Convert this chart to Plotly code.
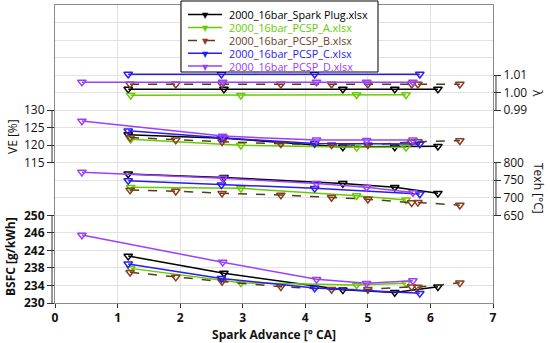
import plotly.graph_objects as go

# ---------------- data ----------------
names = ["2000_16bar_Spark Plug.xlsx", "2000_16bar_PCSP_A.xlsx", "2000_16bar_PCSP_B.xlsx",
         "2000_16bar_PCSP_C.xlsx", "2000_16bar_PCSP_D.xlsx"]

x_sp = [1.17, 2.70, 4.60, 5.43, 6.12]
x_a = [1.21, 2.97, 4.82, 5.61]
x_b = [1.20, 1.93, 2.67, 3.61, 4.42, 5.00, 5.70, 5.80, 6.47]
x_c = [1.17, 2.66, 4.15, 5.83]
x_d = [0.43, 2.68, 4.18, 4.98, 5.72]

lam_sp = [1.002, 1.002, 1.002, 1.002, 1.002]
lam_a = [0.9985, 0.9985, 0.9988, 0.9988]
lam_b = [1.0048, 1.0048, 1.0048, 1.0048, 1.0048, 1.0048, 1.0048, 1.0048, 1.0048]
lam_c = [1.0105, 1.0105, 1.0105, 1.0105]
lam_d = [1.006, 1.006, 1.006, 1.006, 1.006]

ve_sp = [123.0, 122.0, 119.5, 119.5, 119.7]
ve_a = [121.7, 120.0, 119.4, 119.4]
ve_b = [122.2, 121.5, 121.0, 120.4, 120.1, 120.1, 120.9, 121.0, 121.3]
ve_c = [124.1, 122.1, 120.5, 120.35]
ve_d = [126.9, 122.6, 121.5, 121.4, 121.5]

tex_sp = [768, 758, 741, 730, 713]
tex_a = [730, 727, 706, 694]
tex_b = [722, 719, 713, 708, 701, 696, 686, 687, 679]
tex_c = [749, 737, 727, 711]
tex_d = [773, 756, 741, 730, 715]

bsfc_sp = [240.7, 236.8, 233.0, 232.4, 233.7]
bsfc_a = [237.9, 234.6, 234.1, 234.5]
bsfc_b = [237.0, 235.9, 234.9, 233.7, 233.1, 233.1, 233.7, 233.6, 234.6]
bsfc_c = [238.9, 235.6, 233.4, 232.2]
bsfc_d = [245.5, 239.3, 235.4, 234.5, 235.1]

lam_ticks = [0.99, 1.00, 1.01]
ve_ticks = [115, 120, 125, 130]
tex_ticks = [650, 700, 750, 800]
bsfc_ticks = [230, 234, 238, 242, 246, 250]
x_ticks = [0, 1, 2, 3, 4, 5, 6, 7]

# ---------------- styles ----------------
line_cols = ["#000000", "#66cc00", "#5a3a1e", "#2a1bf0", "#9b40ff"]
mark_cols = ["#000000", "#66cc00", "#8b3d1f", "#2a1bf0", "#9b40ff"]
text_cols = ["#000000", "#66cc00", "#6b4226", "#2a1bf0", "#9b40ff"]
dashes = ["solid", "solid", "dash", "solid", "solid"]

xs = [x_sp, x_a, x_b, x_c, x_d]
panels = [
    ("y2", [lam_sp, lam_a, lam_b, lam_c, lam_d]),
    ("y3", [ve_sp, ve_a, ve_b, ve_c, ve_d]),
    ("y4", [tex_sp, tex_a, tex_b, tex_c, tex_d]),
    ("y5", [bsfc_sp, bsfc_a, bsfc_b, bsfc_c, bsfc_d]),
]

FONT = "Open Sans"
fig = go.Figure()

for yref, series in panels:
    for i in range(5):
        fig.add_trace(go.Scatter(
            x=xs[i], y=series[i], yaxis=yref, mode="lines+markers",
            name=names[i], showlegend=False,
            line=dict(color=line_cols[i], width=1.5, dash=dashes[i]),
            marker=dict(symbol="triangle-down-open", size=7.5, color=mark_cols[i],
                        line=dict(width=1.5, color=mark_cols[i])),
        ))

# hidden trace on main y axis so it renders grid
fig.add_trace(go.Scatter(x=[None], y=[None], yaxis="y", showlegend=False))

tickfont = dict(family=FONT, size=12, color="#111")

fig.update_layout(
    width=550, height=343,
    margin=dict(l=55, r=57, t=5, b=40, autoexpand=False),
    paper_bgcolor="white", plot_bgcolor="white",
    showlegend=False,
    font=dict(family=FONT, size=12, color="#111"),
    xaxis=dict(range=[0, 7], tickvals=x_ticks, showgrid=True, gridcolor="#e2e2e2",
               zeroline=False, showline=True, linecolor="#8a8a8a", mirror=True,
               ticks="outside", ticklen=4, tickcolor="#333",
               tickfont=dict(family=FONT, size=12, color="#111", weight="bold"),
               title=dict(text="Spark Advance [° CA]", standoff=2,
                          font=dict(family=FONT, size=12, color="#111", weight="bold"))),
    yaxis=dict(range=[0, 17], dtick=1, showgrid=True, gridcolor="#e2e2e2",
               showticklabels=False, ticks="", zeroline=False,
               showline=True, linecolor="#8a8a8a", mirror=True),
    yaxis2=dict(overlaying="y", anchor="x", side="right", range=[0.88, 1.05],
                tickvals=lam_ticks, tickformat=".2f", showgrid=False, zeroline=False,
                ticks="outside", ticklen=7, tickcolor="#333", tickfont=tickfont),
    yaxis3=dict(overlaying="y", anchor="x", side="left", range=[75, 160],
                tickvals=ve_ticks, showgrid=False, zeroline=False,
                ticks="outside", ticklen=7, tickcolor="#333", tickfont=tickfont),
    yaxis4=dict(overlaying="y", anchor="x", side="right", range=[400, 1250],
                tickvals=tex_ticks, showgrid=False, zeroline=False,
                ticks="outside", ticklen=7, tickcolor="#333", tickfont=tickfont),
    yaxis5=dict(overlaying="y", anchor="x", side="left", range=[230, 298],
                tickvals=bsfc_ticks, showgrid=False, zeroline=False,
                ticks="outside", ticklen=7, tickcolor="#333",
                tickfont=dict(family=FONT, size=12, color="#111", weight="bold")),
)

# axis bracket lines (span of each sub-axis)
shapes = []
for yref, ticks, xp in [("y2", lam_ticks, 1.0068), ("y3", ve_ticks, -0.0068),
                        ("y4", tex_ticks, 1.0068), ("y5", bsfc_ticks, -0.0068)]:
    shapes.append(dict(type="line", xref="paper", yref=yref, x0=xp, x1=xp,
                       y0=min(ticks), y1=max(ticks), line=dict(color="#333", width=1)))

# custom legend box
def px2x(p):
    return (p - 55) / 438.0

def py2y(p):
    return (303 - p) / 298.0

shapes.append(dict(type="rect", xref="paper", yref="paper", layer="above",
                   x0=px2x(181), x1=px2x(378), y0=py2y(72), y1=py2y(1),
                   fillcolor="white", line=dict(color="#000", width=1)))
rows = [14.5, 27.5, 40.5, 53.3, 66]
annotations = []
for i, r in enumerate(rows):
    shapes.append(dict(type="line", xref="paper", yref="paper", layer="above",
                       x0=px2x(188), x1=px2x(222), y0=py2y(r), y1=py2y(r),
                       line=dict(color=line_cols[i], width=1.5, dash=dashes[i])))
    annotations.append(dict(xref="paper", yref="paper", x=px2x(205), y=py2y(r) - 0.004,
                            text="▼", showarrow=False, xanchor="center", yanchor="middle",
                            font=dict(family="DejaVu Sans", size=8, color=mark_cols[i])))
    annotations.append(dict(xref="paper", yref="paper", x=px2x(228), y=py2y(r),
                            text=names[i], showarrow=False, xanchor="left", yanchor="middle",
                            borderpad=0,
                            font=dict(family=FONT, size=10.8, color=text_cols[i])))

# axis titles
annotations += [
    dict(xref="paper", yref="paper", x=px2x(12), y=py2y(137), text="VE [%]", textangle=-90,
         showarrow=False, xanchor="center", yanchor="middle",
         font=dict(family=FONT, size=12, color="#111")),
    dict(xref="paper", yref="paper", x=px2x(10), y=py2y(257), text="BSFC [g/kWh]", textangle=-90,
         showarrow=False, xanchor="center", yanchor="middle",
         font=dict(family=FONT, size=12, color="#111", weight="bold")),
    dict(xref="paper", yref="paper", x=px2x(538), y=py2y(93), text="λ", textangle=90,
         showarrow=False, xanchor="center", yanchor="middle",
         font=dict(family=FONT, size=12, color="#111")),
    dict(xref="paper", yref="paper", x=px2x(538), y=py2y(188), text="Texh [°C]", textangle=90,
         showarrow=False, xanchor="center", yanchor="middle",
         font=dict(family=FONT, size=12, color="#111")),
]

fig.update_layout(shapes=shapes, annotations=annotations)
fig.write_html("out.html", config={"displayModeBar": False},
               post_script="document.body.style.margin='0';document.body.style.overflow='hidden';")
